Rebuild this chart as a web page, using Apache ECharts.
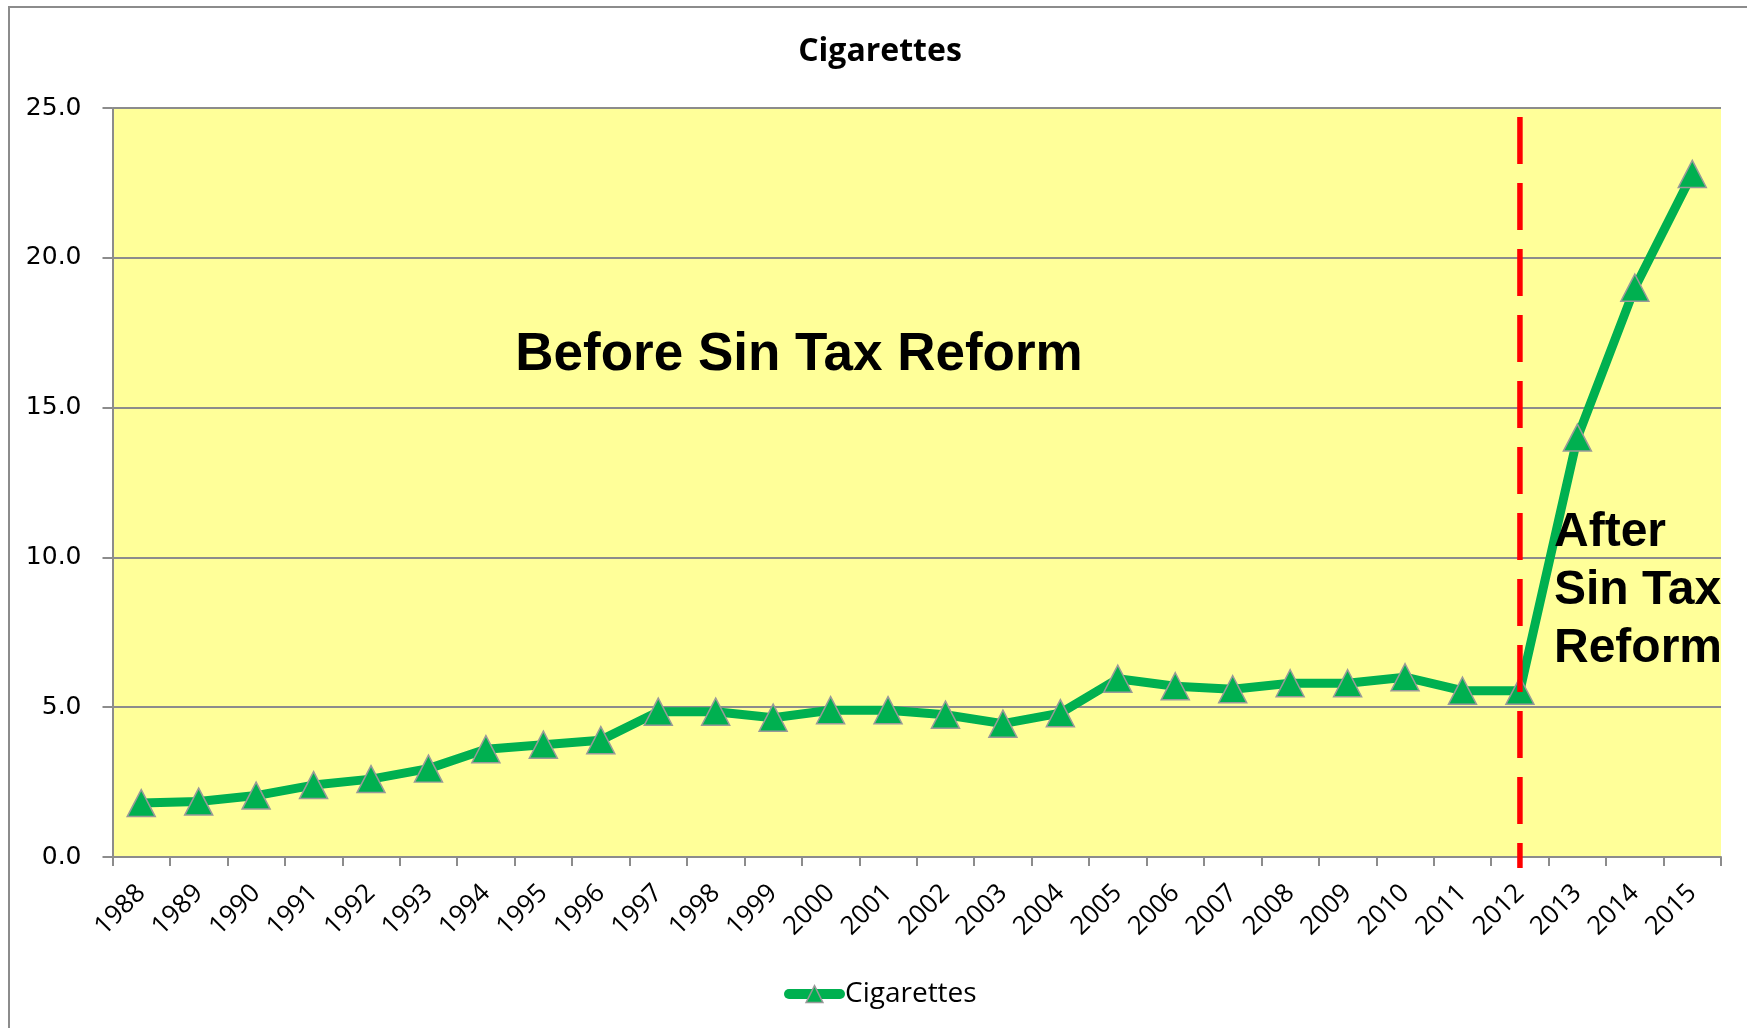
<!DOCTYPE html>
<html>
<head>
<meta charset="utf-8">
<script src="https://cdn.jsdelivr.net/npm/echarts@6/dist/echarts.min.js"></script>
<style>
  html, body { margin: 0; padding: 0; background: #ffffff; }
  #chart { width: 1747px; height: 1028px; }
</style>
</head>
<body>
<div id="chart"></div>
<script>
// Cigarette excise collections by year
const years = ['1988', '1989', '1990', '1991', '1992', '1993', '1994', '1995', '1996', '1997',
               '1998', '1999', '2000', '2001', '2002', '2003', '2004', '2005', '2006', '2007',
               '2008', '2009', '2010', '2011', '2012', '2013', '2014', '2015'];
const cigarettes = [1.8, 1.85, 2.05, 2.4, 2.6, 2.95, 3.6, 3.75, 3.9, 4.85,
                    4.85, 4.65, 4.9, 4.9, 4.75, 4.45, 4.8, 5.95, 5.7, 5.6,
                    5.8, 5.8, 6.0, 5.55, 5.55, 14.0, 19.0, 22.8];
const yMin = 0;
const yMax = 25;
const yStep = 5;
// Year the reform took effect, and the vertical extent of its divider
const reformYear = '2012';
const reformSpan = [24.7, -0.37];

const GREEN = '#00B050';
const GRAY = '#8C8C8C';

const chart = echarts.init(document.getElementById('chart'));

chart.setOption({
  animation: false,
  backgroundColor: '#ffffff',
  title: {
    text: 'Cigarettes',
    left: 875,
    top: 31,
    textAlign: 'center',
    textStyle: { fontFamily: 'Open Sans', fontWeight: 'bold', fontSize: 32, color: '#000' }
  },
  grid: {
    left: 112.5, right: 26, top: 108, bottom: 171,
    show: true, backgroundColor: '#FFFF99', borderWidth: 0
  },
  legend: {
    data: ['Cigarettes'],
    left: 779, top: 975,
    itemWidth: 51, itemHeight: 21, itemGap: 10,
    textStyle: { fontFamily: 'Open Sans', fontSize: 28, color: '#000' },
    lineStyle: { width: 10, cap: 'round', color: GREEN },
    itemStyle: { color: GREEN, borderColor: '#999999', borderWidth: 1.5 }
  },
  xAxis: {
    type: 'category',
    data: years,
    boundaryGap: true,
    axisLine: { lineStyle: { color: GRAY, width: 2 } },
    axisTick: { show: true, length: 9, lineStyle: { color: GRAY, width: 2 } },
    axisLabel: {
      interval: 0, rotate: 45, margin: 32,
      fontFamily: 'Open Sans', fontSize: 26, color: '#000'
    },
    splitLine: { show: false }
  },
  yAxis: {
    type: 'value',
    min: yMin, max: yMax, interval: yStep,
    axisLine: { show: true, lineStyle: { color: GRAY, width: 2 } },
    axisTick: { show: true, length: 10, lineStyle: { color: GRAY, width: 2 } },
    axisLabel: {
      margin: 31,
      fontFamily: 'DejaVu Sans', fontSize: 25, color: '#000',
      formatter: v => v.toFixed(1)
    },
    splitLine: { show: true, lineStyle: { color: GRAY, width: 2 } }
  },
  series: [
    {
      name: 'Cigarettes',
      type: 'line',
      data: cigarettes,
      symbol: 'triangle',
      symbolSize: [28, 27],
      showAllSymbol: true,
      lineStyle: { color: GREEN, width: 9, join: 'round' },
      itemStyle: { color: GREEN, borderColor: '#999999', borderWidth: 1.5 },
      z: 3
    },
    {
      name: 'Reform',
      type: 'line',
      data: [[reformYear, reformSpan[0]], [reformYear, reformSpan[1]]],
      symbol: 'none',
      clip: false,
      silent: true,
      lineStyle: { color: '#FF0000', width: 5.5, type: [47, 19] },
      z: 4
    }
  ],
  graphic: [
    {
      type: 'rect',
      shape: { x: 9, y: 7, width: 1800, height: 1100 },
      style: { fill: 'none', stroke: GRAY, lineWidth: 2 },
      silent: true
    },
    {
      type: 'text',
      x: 799, y: 355,
      style: {
        text: 'Before Sin Tax Reform',
        align: 'center', verticalAlign: 'middle',
        font: 'bold 53px "Liberation Sans", Arial, sans-serif',
        fill: '#000'
      },
      z: 10
    },
    {
      type: 'text',
      x: 1554, y: 504,
      style: {
        text: 'After\nSin Tax\nReform',
        align: 'left', verticalAlign: 'top',
        font: 'bold 48px "Liberation Sans", Arial, sans-serif',
        lineHeight: 58,
        fill: '#000'
      },
      z: 10
    }
  ]
});
</script>
</body>
</html>
